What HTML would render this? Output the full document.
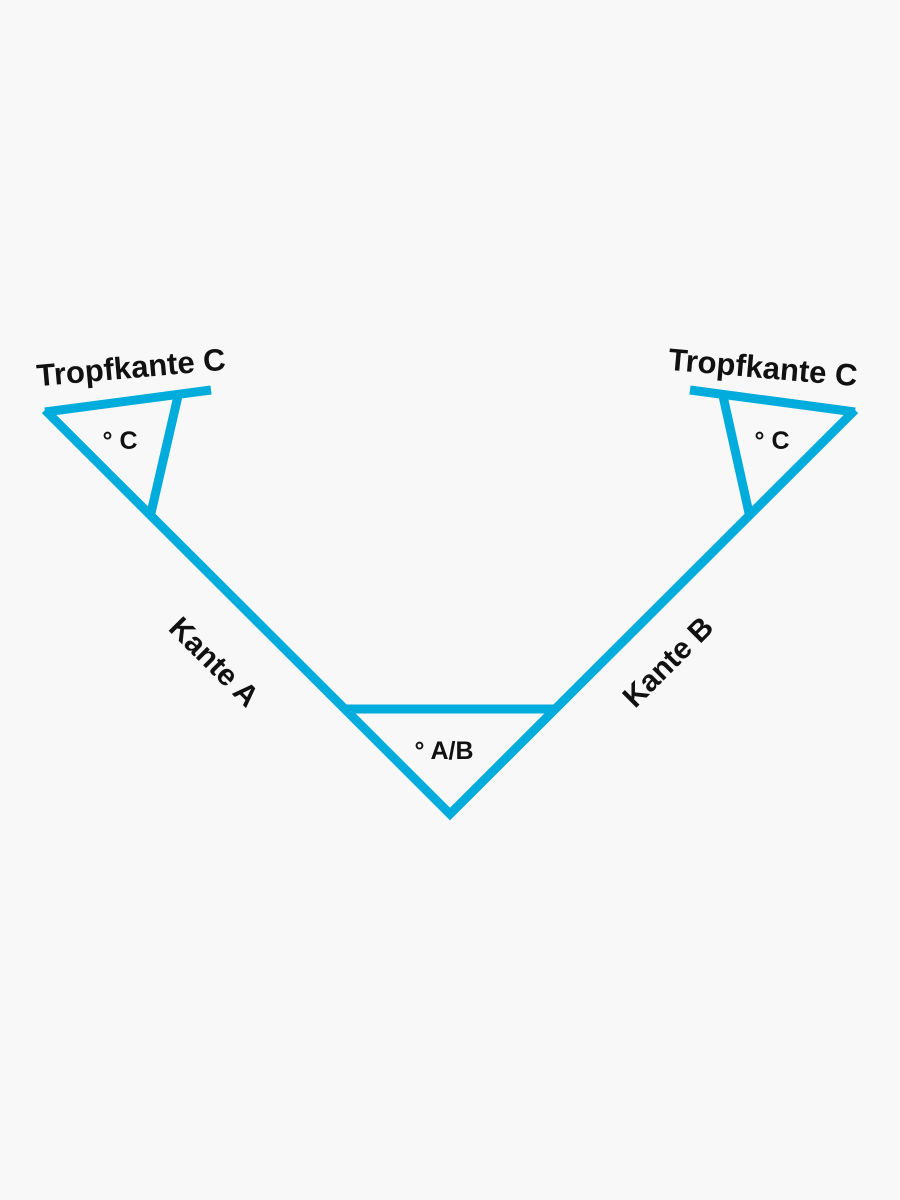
<!DOCTYPE html>
<html><head><meta charset="utf-8"><style>
html,body{margin:0;padding:0;background:#f8f8f8;}
svg{display:block;}
text{font-family:"Liberation Sans",sans-serif;font-weight:bold;fill:#111;}
</style></head><body>
<svg width="900" height="1200" viewBox="0 0 900 1200">
<rect width="900" height="1200" fill="#f8f8f8"/>
<g stroke="#00acdc" stroke-width="9" fill="none" stroke-linecap="butt">
<polyline points="45,410 450,814 855,410"/>
<line x1="346" y1="709" x2="556" y2="709"/>
<line x1="45" y1="412" x2="211" y2="390"/>
<line x1="178" y1="396" x2="151" y2="513"/>
<line x1="690" y1="390" x2="855" y2="412"/>
<line x1="723" y1="396" x2="749" y2="513"/>
</g>
<text x="131" y="378" font-size="31" text-anchor="middle" transform="rotate(-5 131 367)">Tropfkante C</text>
<text x="763" y="378" font-size="31" text-anchor="middle" transform="rotate(5 763 367)">Tropfkante C</text>
<text x="120" y="449" font-size="25" text-anchor="middle">° C</text>
<text x="772" y="449" font-size="25" text-anchor="middle">° C</text>
<text x="444" y="759" font-size="25" text-anchor="middle">° A/B</text>
<text x="214" y="672" font-size="30" text-anchor="middle" transform="rotate(45 214 662)">Kante A</text>
<text x="668" y="672" font-size="30" text-anchor="middle" transform="rotate(-45 668 662)">Kante B</text>
</svg>
</body></html>
